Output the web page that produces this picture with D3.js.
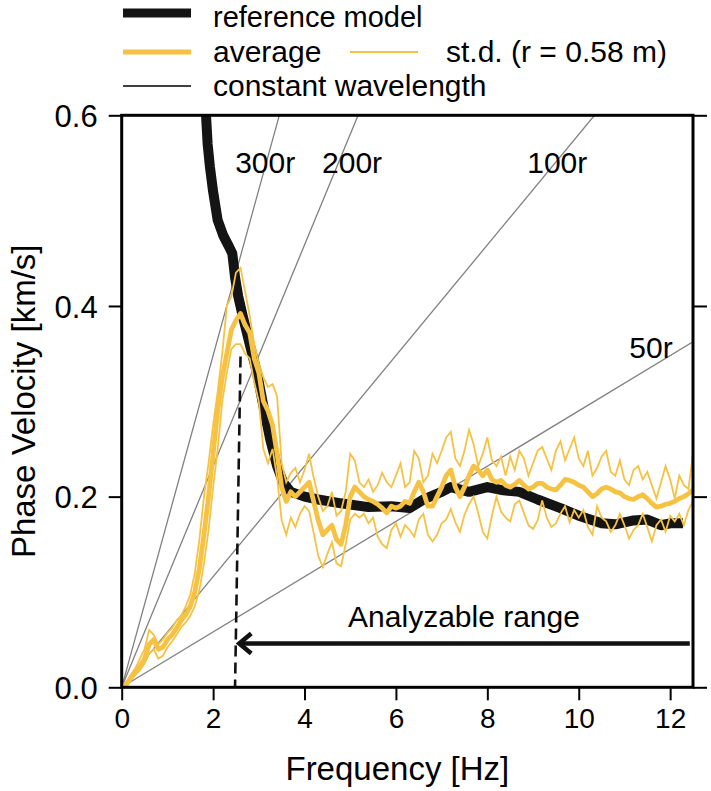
<!DOCTYPE html>
<html><head><meta charset="utf-8">
<script src="https://cdn.jsdelivr.net/npm/d3@7"></script>
<style>body{margin:0;background:#fff}svg{display:block}text{font-family:"Liberation Sans",Arial,Helvetica,sans-serif;fill:#000}</style>
</head><body><svg id="c" width="711" height="791"></svg>
<script>
const freq = [0.0,0.1,0.2,0.3,0.4,0.5,0.6,0.7,0.8,0.9,1.0,1.1,1.2,1.3,1.4,1.5,1.6,1.7,1.8,1.9,2.0,2.1,2.2,2.3,2.4,2.5,2.6,2.7,2.8,2.9,3.0,3.1,3.2,3.3,3.4,3.5,3.6,3.7,3.8,3.9,4.0,4.1,4.2,4.3,4.4,4.5,4.6,4.7,4.8,4.9,5.0,5.1,5.2,5.3,5.4,5.5,5.6,5.7,5.8,5.9,6.0,6.1,6.2,6.3,6.4,6.5,6.6,6.7,6.8,6.9,7.0,7.1,7.2,7.3,7.4,7.5,7.6,7.7,7.8,7.9,8.0,8.1,8.2,8.3,8.4,8.5,8.6,8.7,8.8,8.9,9.0,9.1,9.2,9.3,9.4,9.5,9.6,9.7,9.8,9.9,10.0,10.1,10.2,10.3,10.4,10.5,10.6,10.7,10.8,10.9,11.0,11.1,11.2,11.3,11.4,11.5,11.6,11.7,11.8,11.9,12.0,12.1,12.2,12.3,12.4,12.5];
const average = [0.0,0.003,0.01,0.017,0.022,0.03,0.045,0.05,0.04,0.042,0.05,0.055,0.062,0.07,0.076,0.085,0.1,0.125,0.16,0.2,0.245,0.29,0.325,0.35,0.375,0.385,0.392,0.38,0.372,0.345,0.33,0.3,0.29,0.275,0.245,0.21,0.195,0.205,0.2,0.205,0.21,0.215,0.195,0.175,0.16,0.165,0.17,0.155,0.15,0.17,0.2,0.21,0.205,0.2,0.197,0.195,0.192,0.188,0.183,0.19,0.188,0.19,0.195,0.193,0.205,0.215,0.205,0.19,0.19,0.2,0.21,0.222,0.228,0.21,0.2,0.21,0.222,0.232,0.228,0.222,0.228,0.218,0.215,0.217,0.212,0.21,0.213,0.217,0.212,0.208,0.21,0.214,0.214,0.21,0.208,0.207,0.212,0.218,0.217,0.215,0.212,0.21,0.205,0.2,0.203,0.208,0.21,0.208,0.205,0.204,0.2,0.198,0.197,0.2,0.202,0.198,0.193,0.189,0.19,0.192,0.193,0.195,0.198,0.2,0.203,0.207];
const stdUpper = [0.0,0.005,0.013,0.02,0.03,0.04,0.06,0.055,0.045,0.05,0.057,0.062,0.07,0.075,0.085,0.097,0.12,0.155,0.2,0.235,0.275,0.31,0.35,0.4,0.41,0.435,0.44,0.415,0.39,0.36,0.34,0.325,0.315,0.318,0.305,0.235,0.215,0.225,0.23,0.215,0.228,0.245,0.22,0.2,0.185,0.19,0.205,0.18,0.185,0.205,0.245,0.238,0.215,0.21,0.218,0.205,0.212,0.225,0.215,0.21,0.222,0.235,0.21,0.215,0.248,0.24,0.215,0.222,0.245,0.235,0.248,0.262,0.268,0.24,0.232,0.248,0.27,0.255,0.232,0.245,0.262,0.238,0.232,0.242,0.222,0.242,0.228,0.248,0.24,0.222,0.235,0.248,0.252,0.24,0.228,0.248,0.258,0.238,0.25,0.262,0.24,0.232,0.248,0.222,0.23,0.242,0.248,0.226,0.222,0.238,0.218,0.212,0.228,0.232,0.218,0.226,0.212,0.198,0.215,0.232,0.218,0.198,0.222,0.212,0.208,0.245];
const stdLower = [0.0,0.0,0.007,0.013,0.018,0.025,0.035,0.04,0.03,0.033,0.042,0.048,0.055,0.063,0.068,0.075,0.085,0.102,0.13,0.165,0.21,0.25,0.3,0.33,0.355,0.36,0.36,0.35,0.345,0.32,0.3,0.25,0.235,0.25,0.22,0.175,0.16,0.178,0.168,0.182,0.19,0.185,0.162,0.138,0.126,0.14,0.152,0.13,0.127,0.15,0.176,0.182,0.178,0.182,0.172,0.178,0.158,0.15,0.146,0.165,0.172,0.158,0.17,0.165,0.158,0.176,0.182,0.16,0.153,0.16,0.172,0.176,0.187,0.173,0.163,0.181,0.192,0.2,0.183,0.163,0.156,0.18,0.2,0.184,0.178,0.174,0.192,0.196,0.183,0.17,0.166,0.175,0.196,0.178,0.168,0.172,0.182,0.19,0.173,0.186,0.178,0.186,0.168,0.16,0.19,0.178,0.174,0.163,0.17,0.182,0.17,0.156,0.165,0.17,0.182,0.168,0.153,0.17,0.176,0.163,0.18,0.174,0.182,0.17,0.186,0.195];
const refFreq = [1.845,1.88,1.93,2.0,2.1,2.22,2.35,2.42,2.48,2.55,2.65,2.8,2.96,3.1,3.25,3.4,3.53,3.7,4.0,4.3,4.8,5.4,5.9,6.3,6.6,7.0,7.2,7.6,8.0,8.3,8.7,9.1,9.6,10.0,10.5,10.8,11.2,11.5,11.8,12.0,12.28];
const refVel = [0.60,0.57,0.546,0.52,0.49,0.474,0.462,0.455,0.43,0.41,0.389,0.36,0.33,0.295,0.26,0.232,0.215,0.205,0.2,0.197,0.193,0.189,0.19,0.188,0.197,0.205,0.21,0.205,0.21,0.207,0.205,0.197,0.188,0.18,0.172,0.171,0.175,0.176,0.17,0.172,0.172];
const wavelengthMultiples = [300, 200, 100, 50];
const wavelengthLabels = ["300r", "200r", "100r", "50r"];
const wavelengthLabelPos = [[3.14, 0.54], [5.04, 0.54], [9.53, 0.54], [11.58, 0.345]];
const radiusKm = 0.58 / 1000;
const cutoffLine = [[2.6, 0.347], [2.48, 0.0]];
const arrowFrom = [12.43, 0.046], arrowTo = [2.55, 0.046];
const xTicks = [0, 2, 4, 6, 8, 10, 12];
const yTicks = [0.0, 0.2, 0.4, 0.6];

const svg = d3.select("#c");
const x = d3.scaleLinear().domain([0, 12.5]).range([121.7, 693]);
const y = d3.scaleLinear().domain([0, 0.6]).range([687.3, 115.3]);
const yellow = "#F6C244";

svg.append("defs").append("clipPath").attr("id", "clip")
  .append("rect").attr("x", x(0)).attr("y", y(0.6)).attr("width", x(12.5) - x(0)).attr("height", y(0) - y(0.6));
const plot = svg.append("g").attr("clip-path", "url(#clip)");

wavelengthMultiples.forEach((n, i) => {
  const lam = n * radiusKm;
  const fEnd = Math.min(12.5, 0.6 / lam);
  plot.append("line").attr("x1", x(0)).attr("y1", y(0)).attr("x2", x(fEnd)).attr("y2", y(lam * fEnd))
    .attr("stroke", "#808080").attr("stroke-width", 1.3);
  svg.append("text").attr("x", x(wavelengthLabelPos[i][0])).attr("y", y(wavelengthLabelPos[i][1]))
    .attr("text-anchor", "middle").attr("font-size", 30).text(wavelengthLabels[i]);
});

plot.append("line").attr("x1", x(cutoffLine[0][0])).attr("y1", y(cutoffLine[0][1]))
  .attr("x2", x(cutoffLine[1][0])).attr("y2", y(cutoffLine[1][1]))
  .attr("stroke", "#111").attr("stroke-width", 2.6).attr("stroke-dasharray", "11,6");

const line = d3.line().x(d => x(d[0])).y(d => y(d[1]));
const refData = refFreq.map((f, i) => [f, refVel[i]]);
plot.append("path").datum(refData).attr("d", line)
  .attr("fill", "none").attr("stroke", "#141414").attr("stroke-width", 10).attr("stroke-linejoin", "round");

[stdUpper, stdLower].forEach(s => {
  plot.append("path").datum(freq.map((f, i) => [f, s[i]])).attr("d", line)
    .attr("fill", "none").attr("stroke", yellow).attr("stroke-width", 1.8);
});
plot.append("path").datum(freq.map((f, i) => [f, average[i]])).attr("d", line)
  .attr("fill", "none").attr("stroke", yellow).attr("stroke-width", 4.8).attr("stroke-linejoin", "round");

svg.append("line").attr("x1", x(arrowFrom[0])).attr("y1", y(arrowFrom[1])).attr("x2", x(arrowTo[0]) + 3).attr("y2", y(arrowTo[1]))
  .attr("stroke", "#111").attr("stroke-width", 4.5);
const tx = x(arrowTo[0]), ty = y(arrowTo[1]);
svg.append("path").attr("d", `M${tx + 13},${ty - 10} L${tx + 1},${ty} L${tx + 13},${ty + 10}`)
  .attr("fill", "none").attr("stroke", "#111").attr("stroke-width", 4.5).attr("stroke-linejoin", "miter");
svg.append("text").attr("x", (x(arrowFrom[0]) + x(arrowTo[0])) / 2).attr("y", y(0.063))
  .attr("text-anchor", "middle").attr("font-size", 30).text("Analyzable range");

svg.append("rect").attr("x", x(0)).attr("y", y(0.6)).attr("width", x(12.5) - x(0)).attr("height", y(0) - y(0.6))
  .attr("fill", "none").attr("stroke", "#000").attr("stroke-width", 3);

const xAxis = svg.append("g").attr("transform", `translate(0,${y(0)})`)
  .call(d3.axisBottom(x).tickValues(xTicks).tickFormat(d3.format("d")).tickSize(13).tickPadding(8));
const yAxis = svg.append("g").attr("transform", `translate(${x(0)},0)`)
  .call(d3.axisLeft(y).tickValues(yTicks).tickFormat(d3.format(".1f")).tickSize(13).tickPadding(11));
const yAxisR = svg.append("g").attr("transform", `translate(${x(12.5)},0)`)
  .call(d3.axisRight(y).tickValues(yTicks).tickFormat("").tickSize(14));
[xAxis, yAxis, yAxisR].forEach(a => {
  a.select(".domain").remove();
  a.selectAll(".tick line").attr("stroke", "#000").attr("stroke-width", 2);
  a.selectAll("text").attr("font-size", 28).attr("font-family", "Liberation Sans, Arial, sans-serif").attr("fill", "#000");
});
yAxis.selectAll("text").attr("dy", "0.36em").attr("font-size", 31);

svg.append("text").attr("x", (x(0) + x(12.5)) / 2 - 10).attr("y", 780).attr("text-anchor", "middle")
  .attr("font-size", 33).text("Frequency [Hz]");
svg.append("text").attr("transform", `translate(35,${(y(0) + y(0.6)) / 2}) rotate(-90)`).attr("text-anchor", "middle")
  .attr("font-size", 33).text("Phase Velocity [km/s]");

const lg = svg.append("g");
lg.append("line").attr("x1", 123).attr("x2", 191).attr("y1", 13).attr("y2", 13).attr("stroke", "#141414").attr("stroke-width", 9);
lg.append("text").attr("x", 213).attr("y", 27).attr("font-size", 29).text("reference model");
lg.append("line").attr("x1", 123).attr("x2", 191).attr("y1", 52).attr("y2", 52).attr("stroke", yellow).attr("stroke-width", 5);
lg.append("text").attr("x", 213).attr("y", 62).attr("font-size", 30).text("average");
lg.append("line").attr("x1", 350).attr("x2", 418).attr("y1", 52).attr("y2", 52).attr("stroke", yellow).attr("stroke-width", 2);
lg.append("text").attr("x", 446).attr("y", 62).attr("font-size", 30).text("st.d. (r = 0.58 m)");
lg.append("line").attr("x1", 123).attr("x2", 191).attr("y1", 86).attr("y2", 86).attr("stroke", "#000").attr("stroke-width", 1.3);
lg.append("text").attr("x", 213).attr("y", 96).attr("font-size", 30).text("constant wavelength");
</script></body></html>
